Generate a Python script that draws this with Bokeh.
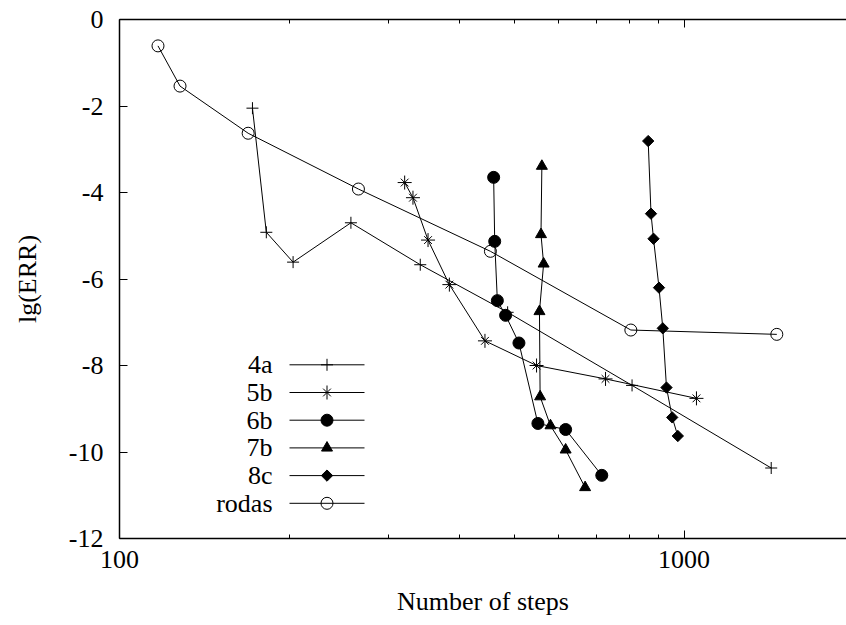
import numpy as np
from bokeh.plotting import figure
from bokeh.models import (Range1d, LogAxis, FixedTicker, PrintfTickFormatter,
                          Label, CustomJSTickFormatter)
from bokeh.embed import file_html
from bokeh.resources import INLINE

# ---- data ----
series_names = ["4a", "5b", "6b", "7b", "8c", "rodas"]

steps_4a = [172, 182, 203, 257, 341, 487, 809, 1427]
err_4a = [-2.05, -4.92, -5.61, -4.70, -5.67, -6.77, -8.46, -10.37]

steps_5b = [320, 331, 352, 384, 444, 548, 726, 1052]
err_5b = [-3.77, -4.12, -5.10, -6.13, -7.43, -8.00, -8.31, -8.76]

steps_6b = [460, 462, 467, 483, 510, 551, 617, 715]
err_6b = [-3.65, -5.13, -6.50, -6.84, -7.48, -9.34, -9.48, -10.54]

steps_7b = [560, 558, 564, 554.5, 556, 580, 617, 668]
err_7b = [-3.39, -4.97, -5.65, -6.75, -8.72, -9.39, -9.95, -10.82]

steps_8c = [864, 874, 883, 903, 917, 931, 953, 975]
err_8c = [-2.81, -4.49, -5.07, -6.20, -7.14, -8.51, -9.20, -9.63]

steps_rodas = [117, 128, 169, 265, 454, 805, 1460]
err_rodas = [-0.61, -1.54, -2.63, -3.92, -5.36, -7.18, -7.28]

x_major_ticks = [100, 1000]
x_minor_ticks = [200, 300, 400, 500, 600, 700, 800, 900]
y_ticks = [0, -2, -4, -6, -8, -10, -12]

FONT = "Liberation Serif"
FS = "26px"

W, H = 846, 625
BL, BR, BT, BB = 119, 0, 19, 87
FW, FH = W - BL - BR, H - BT - BB
X0, X1 = 100, 1940
Y0, Y1 = -12, 0

p = figure(width=W, height=H, output_backend="svg", toolbar_location=None,
           x_axis_type="log", x_range=Range1d(X0, X1), y_range=Range1d(Y0, Y1),
           min_border_left=BL, min_border_right=BR, min_border_top=BT, min_border_bottom=BB)
p.background_fill_color = "white"
p.border_fill_color = "white"
p.outline_line_color = None
p.xgrid.visible = False
p.ygrid.visible = False

# axes styling
for ax in (p.xaxis[0], p.yaxis[0]):
    ax.axis_line_width = 1.5
    ax.axis_line_color = "black"
    ax.major_tick_line_color = "black"
    ax.minor_tick_line_color = "black"
    ax.major_tick_in = 8
    ax.major_tick_out = 0
    ax.minor_tick_in = 4
    ax.minor_tick_out = 0
    ax.major_label_text_font = FONT
    ax.major_label_text_font_size = FS
    ax.major_label_text_color = "black"
    ax.axis_label_text_font = FONT
    ax.axis_label_text_font_size = FS
    ax.axis_label_text_font_style = "normal"
    ax.axis_label_text_color = "black"

p.xaxis[0].ticker = FixedTicker(ticks=x_major_ticks, minor_ticks=x_minor_ticks)
p.xaxis[0].formatter = PrintfTickFormatter(format="%d")
p.xaxis[0].major_label_standoff = 12
p.xaxis[0].axis_label = "Number of steps"
p.xaxis[0].axis_label_standoff = 16

p.yaxis[0].ticker = FixedTicker(ticks=y_ticks, minor_ticks=[])
p.yaxis[0].formatter = PrintfTickFormatter(format="%d")
p.yaxis[0].major_label_standoff = 16
p.yaxis[0].axis_label = "lg(ERR)"
p.yaxis[0].axis_label_standoff = 24

top = LogAxis(ticker=FixedTicker(ticks=x_major_ticks, minor_ticks=x_minor_ticks),
              formatter=CustomJSTickFormatter(code="return ''"),
              axis_line_width=1.5,
              major_tick_in=8, major_tick_out=0, minor_tick_in=4, minor_tick_out=0,
              major_label_standoff=0)
p.add_layout(top, "above")

# ---- series (each may use one or more overlaid marker shapes) ----
specs = [
    (steps_4a, err_4a, [dict(marker="cross", size=12, fill_color=None)]),
    (steps_5b, err_5b, [dict(marker="cross", size=14, fill_color=None),
                        dict(marker="x", size=11, fill_color=None)]),
    (steps_6b, err_6b, [dict(marker="circle", size=12, fill_color="black")]),
    (steps_7b, err_7b, [dict(marker="triangle", size=11, fill_color="black")]),
    (steps_8c, err_8c, [dict(marker="square", size=8, angle=np.pi / 4, fill_color="black")]),
    (steps_rodas, err_rodas, [dict(marker="circle", size=12, fill_color=None)]),
]

for xs, ys, mks in specs:
    p.line(xs, ys, line_color="black", line_width=1)
    for mk in mks:
        p.scatter(xs, ys, line_color="black", line_width=1, **mk)


# ---- key: labels right-aligned left of a short line with the marker ----
# key layout is given in frame pixels and converted through the axis scales
def px_to_x(px):
    return X0 * (X1 / X0) ** (px / FW)


def py_to_y(py):
    return Y0 + (Y1 - Y0) * py / FH


KEY_TEXT_X = 153
KEY_LINE_X0, KEY_LINE_X1 = 170, 245
KEY_TOP_Y, KEY_STEP = 173.7, 27.7
for i, (name, (_, _, mks)) in enumerate(zip(series_names, specs)):
    yc = KEY_TOP_Y - KEY_STEP * i
    yd = py_to_y(yc)
    p.line([px_to_x(KEY_LINE_X0), px_to_x(KEY_LINE_X1)], [yd, yd],
           line_color="black", line_width=1)
    for mk in mks:
        p.scatter([px_to_x((KEY_LINE_X0 + KEY_LINE_X1) / 2)], [yd],
                  line_color="black", line_width=1, **mk)
    p.add_layout(Label(x=KEY_TEXT_X, y=yc, x_units="screen", y_units="screen", text=name,
                       text_align="right", text_baseline="middle",
                       text_font=FONT, text_font_size=FS, text_color="black"))

open("out.html", "w").write(file_html(p, INLINE))
